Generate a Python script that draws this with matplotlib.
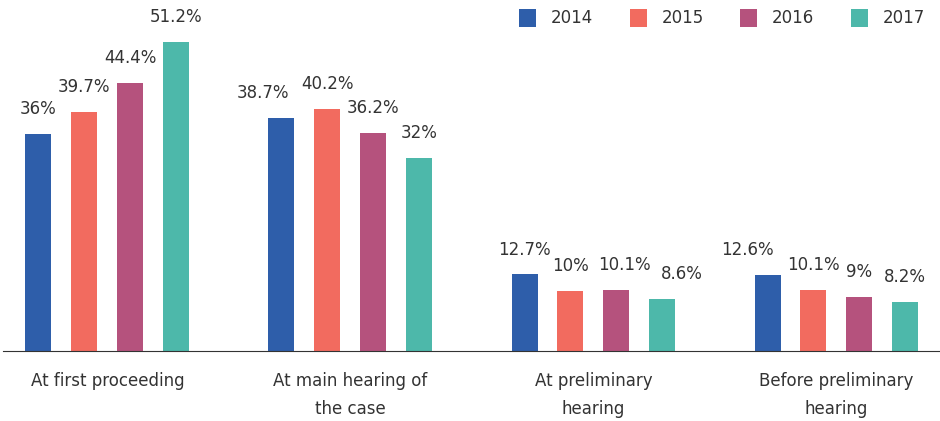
import numpy as np
import matplotlib.pyplot as plt

categories = ['At first proceeding', 'At main hearing of\nthe case',
              'At preliminary\nhearing', 'Before preliminary\nhearing']
years = ['2014', '2015', '2016', '2017']
v2014 = [36, 38.7, 12.7, 12.6]
v2015 = [39.7, 40.2, 10, 10.1]
v2016 = [44.4, 36.2, 10.1, 9]
v2017 = [51.2, 32, 8.6, 8.2]
colors = ['#2E5EAA', '#F26B5F', '#B5527D', '#4DB8AA']

series = [v2014, v2015, v2016, v2017]
# horizontal nudges (px) for labels that would otherwise collide
nudge = [[0, -19, 0, -20], [0, 0, 0, 0], [0, 0, 8, 0], [0, 0, 19, 0]]

x = np.arange(len(categories))
step = 0.189
width = 0.107

fig = plt.figure(figsize=(9.4, 4.21), dpi=100)
ax = fig.add_axes([0.003, 0.166, 0.997, 0.834])

for i, (vals, col, yr) in enumerate(zip(series, colors, years)):
    pos = x + (i - 1.5) * step
    bars = ax.bar(pos, vals, width, color=col, label=yr)
    for j, (b, v) in enumerate(zip(bars, vals)):
        ax.annotate(f'{v:g}%', (b.get_x() + b.get_width() / 2, v),
                    xytext=(nudge[i][j] * 0.72, 11.5), textcoords='offset points',
                    ha='center', va='bottom', fontsize=12, color='#333333')

ax.set_xlim(-0.43, 3.426)
ax.set_ylim(0, 58.2)
ax.set_xticks(x)
ax.set_xticklabels(categories, fontsize=12, color='#333333', linespacing=1.7)
ax.tick_params(axis='x', length=0, pad=15)
ax.set_yticks([])
for s in ['top', 'right', 'left']:
    ax.spines[s].set_visible(False)
ax.spines['bottom'].set_color('#333333')

fig.legend(loc='upper right', bbox_to_anchor=(1.0, 1.015), ncol=4, frameon=False,
           fontsize=12, handlelength=1.0, handleheight=1.3, columnspacing=2.2,
           handletextpad=0.9, labelcolor='#333333')

fig.savefig('out.png', dpi=100)
